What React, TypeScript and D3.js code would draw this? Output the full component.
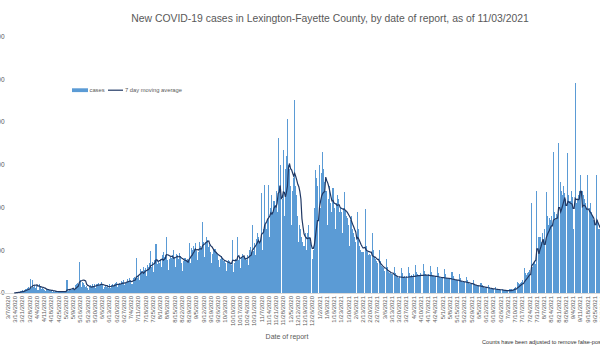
import React from "react";
import * as d3 from "d3";

// ---- data ----
const startDate = "2020-03-07";
const titleText = "New COVID-19 cases in Lexington-Fayette County, by date of report, as of 11/03/2021";
const yTicks = [0, 100, 200, 300, 400, 500, 600];
const seriesNames = ["cases", "7 day moving average"];
const xAxisTitle = "Date of report";
const footNote = "Counts have been adjusted to remove false-positive results";

// daily new cases, one row per week (Sat..Fri)
const cases: number[] = [
  0, 0, 0, 0, 1, 0, 1,
  1, 2, 1, 3, 2, 4, 5,
  6, 3, 8, 10, 9, 12, 14,
  10, 33, 12, 30, 14, 16, 12,
  18, 8, 22, 14, 10, 12, 9,
  8, 4, 10, 6, 8, 7, 5,
  4, 2, 5, 3, 4, 3, 4,
  3, 2, 3, 4, 2, 3, 4,
  4, 30, 5, 6, 8, 7, 10,
  12, 8, 18, 20, 24, 22, 72,
  30, 15, 26, 24, 18, 14, 16,
  12, 8, 14, 18, 16, 20, 15,
  22, 12, 20, 24, 18, 22, 26,
  18, 10, 14, 16, 15, 18, 12,
  20, 12, 18, 22, 16, 20, 24,
  26, 14, 20, 24, 22, 28, 25,
  30, 18, 24, 32, 28, 34, 30,
  22, 20, 36, 38, 34, 83, 35,
  42, 30, 56, 52, 48, 60, 55,
  58, 40, 66, 62, 70, 99, 60,
  72, 50, 78, 115, 68, 74, 70,
  80, 60, 90, 96, 84, 88, 131,
  78, 55, 80, 86, 82, 90, 100,
  84, 60, 92, 88, 80, 94, 86,
  70, 52, 74, 82, 76, 80, 72,
  118, 70, 105, 100, 110, 104, 117,
  98, 78, 96, 120, 110, 104, 167,
  120, 85, 118, 130, 125, 108, 112,
  95, 70, 92, 100, 104, 96, 90,
  78, 60, 80, 86, 82, 76, 74,
  70, 52, 72, 78, 74, 70, 66,
  124, 50, 70, 80, 76, 132, 78,
  80, 58, 84, 92, 86, 82, 78,
  90, 66, 100, 108, 96, 159, 98,
  118, 90, 126, 140, 132, 120, 124,
  234, 100, 150, 253, 160, 150, 170,
  253, 130, 200, 230, 190, 215, 205,
  240, 190, 363, 250, 300, 0, 220,
  335, 180, 290, 320, 408, 300, 290,
  250, 160, 240, 270, 452, 250, 230,
  180, 120, 160, 150, 130, 120, 110,
  140, 100, 140, 160, 130, 120, 0,
  80, 100, 200, 288, 269, 250, 0,
  300, 200, 280, 331, 290, 260, 240,
  240, 160, 220, 250, 210, 190, 246,
  200, 150, 210, 230, 220, 190, 200,
  190, 140, 200, 237, 195, 180, 176,
  160, 110, 170, 180, 150, 140, 130,
  120, 0, 190, 150, 110, 100, 96,
  95, 0, 197, 110, 96, 88, 92,
  88, 0, 140, 100, 84, 80, 76,
  70, 0, 100, 76, 64, 60, 58,
  52, 0, 80, 60, 50, 48, 46,
  44, 0, 60, 48, 40, 38, 36,
  40, 0, 58, 46, 38, 40, 36,
  40, 0, 62, 48, 40, 42, 38,
  44, 0, 66, 50, 44, 42, 40,
  46, 0, 68, 52, 44, 42, 40,
  44, 0, 64, 50, 42, 40, 38,
  40, 0, 60, 46, 38, 36, 34,
  38, 0, 56, 44, 36, 34, 32,
  34, 0, 50, 40, 32, 30, 30,
  30, 0, 44, 34, 28, 26, 26,
  26, 0, 38, 30, 24, 22, 20,
  20, 0, 30, 22, 18, 16, 16,
  16, 0, 24, 18, 14, 12, 12,
  12, 0, 18, 14, 10, 9, 9,
  9, 0, 14, 10, 8, 7, 8,
  6, 0, 10, 8, 5, 6, 5,
  4, 0, 10, 10, 8, 9, 12,
  14, 0, 26, 24, 22, 24, 26,
  30, 0, 58, 46, 42, 48, 50,
  55, 0, 210, 62, 70, 74, 68,
  239, 0, 130, 130, 120, 140, 125,
  150, 0, 236, 180, 160, 175, 170,
  180, 0, 330, 190, 170, 185, 175,
  351, 0, 260, 240, 230, 250, 235,
  220, 0, 328, 230, 215, 240, 225,
  150, 0, 492, 210, 220, 230, 240,
  276, 0, 240, 230, 220, 210, 200,
  276, 0, 200, 210, 190, 180, 170,
  170, 0, 276, 170, 150, 140, 150,
  150, 0, 180, 150, 140, 130, 135,
  130, 0, 160, 135, 125, 120, 118,
  115, 0, 140, 120, 110, 105, 100,
  100, 0, 125, 105, 98, 95, 90,
  92, 0, 115, 98, 95,
];

const parse = d3.timeParse("%Y-%m-%d");
const fmt = d3.timeFormat("%-m/%-d/%Y");
const start = parse(startDate) as Date;
const dates: Date[] = cases.map((_, i) => d3.timeDay.offset(start, i));
const labels: string[] = dates.map((d) => fmt(d));

export default function App() {
  const W = 600;
  const H = 350;
  const step = 1.035;
  const x0 = 8;
  const x = d3
    .scaleBand<string>()
    .domain(labels)
    .range([x0 - step / 2, x0 - step / 2 + labels.length * step])
    .padding(0);
  const y = d3.scaleLinear().domain([0, 600]).range([293, 36.8]);

  const ma: { i: number; v: number }[] = [];
  for (let i = 6; i < cases.length; i++) {
    ma.push({ i, v: d3.mean(cases.slice(i - 6, i + 1)) as number });
  }
  const line = d3
    .line<{ i: number; v: number }>()
    .x((d) => (x(labels[d.i]) as number) + x.bandwidth() / 2)
    .y((d) => y(d.v));

  const grey = "#595959";
  const font = "'Liberation Sans', Arial, sans-serif";

  return (
    <svg
      width={W}
      height={H}
      style={{ position: "absolute", left: 0, top: 0, background: "#fff" }}
      fontFamily={font}
    >
      <text x={330} y={22} textAnchor="middle" fontSize={10.4} fill={grey}>
        {titleText}
      </text>

      {yTicks.map((t) => (
        <text key={t} x={4.6} y={y(t)} dy="0.35em" textAnchor="end" fontSize={6.5} fill={grey}>
          {t}
        </text>
      ))}

      <g shapeRendering="crispEdges">
        {cases.map((v, i) =>
          v > 0 ? (
            <rect
              key={i}
              x={x(labels[i])}
              y={y(v)}
              width={x.bandwidth()}
              height={y(0) - y(v)}
              fill="#5B9BD5"
            />
          ) : null
        )}
      </g>

      <line x1={0} x2={W} y1={y(0) + 0.5} y2={y(0) + 0.5} stroke="#d9d9d9" strokeWidth={1} />

      <path d={line(ma) || ""} fill="none" stroke="#203864" strokeWidth={1.2} />

      {labels.map((l, i) =>
        i % 7 === 0 ? (
          <text
            key={l}
            transform={`translate(${(x(l) as number) + x.bandwidth() / 2 + 2},296) rotate(-90)`}
            textAnchor="end"
            fontSize={6}
            fill={grey}
          >
            {l}
          </text>
        ) : null
      )}

      <text x={287} y={339} textAnchor="middle" fontSize={7} fill={grey}>
        {xAxisTitle}
      </text>

      <text x={482} y={344} fontSize={5.6} fill="#333">
        {footNote}
      </text>

      <rect x={72} y={88.3} width={16} height={3.8} fill="#5B9BD5" />
      <text x={89.5} y={92.3} fontSize={5.8} fill={grey}>
        {seriesNames[0]}
      </text>
      <line x1={108} x2={123} y1={90.2} y2={90.2} stroke="#203864" strokeWidth={1.2} />
      <text x={125} y={92.3} fontSize={5.8} fill={grey}>
        {seriesNames[1]}
      </text>
    </svg>
  );
}
